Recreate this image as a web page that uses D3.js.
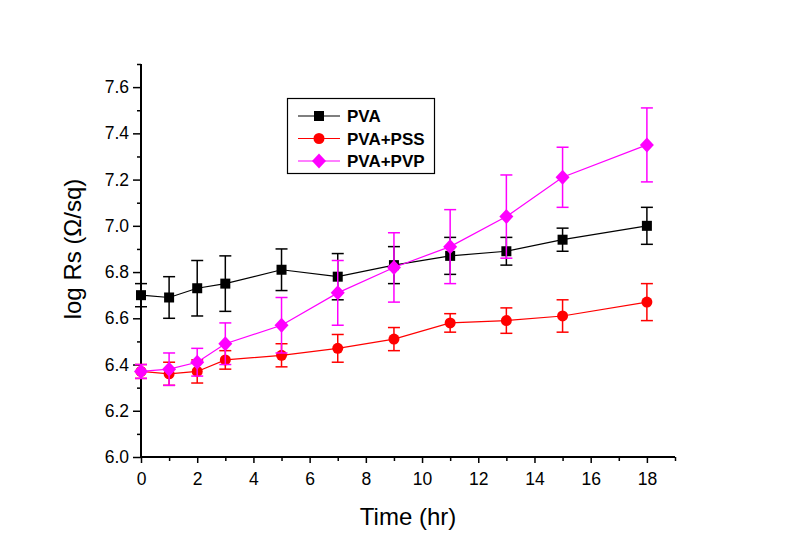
<!DOCTYPE html>
<html><head><meta charset="utf-8">
<script src="https://cdn.jsdelivr.net/npm/d3@7"></script>
<style>body{margin:0;background:#fff}svg{display:block}text{font-family:Arial,"Liberation Sans",sans-serif}</style>
</head><body><svg id="c" width="785" height="550"></svg>
<script>
const times = [0, 1, 2, 3, 5, 7, 9, 11, 13, 15, 18];
const pvaValues   = [6.70, 6.69, 6.73, 6.75, 6.81, 6.78, 6.83, 6.87, 6.89, 6.94, 7.00];
const pvaErrors   = [0.05, 0.09, 0.12, 0.12, 0.09, 0.10, 0.08, 0.08, 0.06, 0.05, 0.08];
const pssValues   = [6.37, 6.36, 6.37, 6.42, 6.44, 6.47, 6.51, 6.58, 6.59, 6.61, 6.67];
const pssErrors   = [0.03, 0.05, 0.05, 0.04, 0.05, 0.06, 0.05, 0.04, 0.055, 0.07, 0.08];
const pvpValues   = [6.37, 6.38, 6.41, 6.49, 6.57, 6.71, 6.82, 6.91, 7.04, 7.21, 7.35];
const pvpErrors   = [0.03, 0.07, 0.06, 0.09, 0.12, 0.14, 0.15, 0.16, 0.18, 0.13, 0.16];
const seriesNames = ["PVA", "PVA+PSS", "PVA+PVP"];
const xTicks = [0, 2, 4, 6, 8, 10, 12, 14, 16, 18];
const yTicks = [6.0, 6.2, 6.4, 6.6, 6.8, 7.0, 7.2, 7.4, 7.6];

const svg = d3.select("#c");
const x = d3.scaleLinear().domain([0, 19]).range([141, 675]);
const y = d3.scaleLinear().domain([6.0, 7.7]).range([457, 64]);

const series = [
  {name: seriesNames[0], vals: pvaValues, errs: pvaErrors, color: "#000000", shape: "square"},
  {name: seriesNames[1], vals: pssValues, errs: pssErrors, color: "#ff0000", shape: "circle"},
  {name: seriesNames[2], vals: pvpValues, errs: pvpErrors, color: "#ff00ff", shape: "diamond"}
];

function marker(g, shape, color) {
  if (shape === "square") g.append("rect").attr("x", -5).attr("y", -5).attr("width", 10).attr("height", 10).attr("fill", color);
  else if (shape === "circle") g.append("circle").attr("r", 5.5).attr("fill", color);
  else g.append("path").attr("d", "M0,-7.5L7,0L0,7.5L-7,0Z").attr("fill", color);
}

// axes
const xAxis = svg.append("g").attr("transform", `translate(0,${y(6.0)})`)
  .call(d3.axisBottom(x).tickValues(xTicks).tickSize(6).tickPadding(10).tickFormat(d3.format("d")));
svg.append("g").attr("transform", `translate(0,${y(6.0)})`)
  .call(d3.axisBottom(x).tickValues(d3.range(1, 20, 2)).tickSize(4).tickFormat(""))
  .select(".domain").remove();
const yAxis = svg.append("g").attr("transform", `translate(${x(0)},0)`)
  .call(d3.axisLeft(y).tickValues(yTicks).tickSize(8).tickPadding(4).tickFormat(d3.format(".1f")));
svg.append("g").attr("transform", `translate(${x(0)},0)`)
  .call(d3.axisLeft(y).tickValues([6.1, 6.3, 6.5, 6.7, 6.9, 7.1, 7.3, 7.5, 7.7]).tickSize(4).tickFormat(""))
  .select(".domain").remove();
svg.selectAll(".domain").attr("stroke", "#000").attr("stroke-width", 2);
svg.selectAll(".tick line").attr("stroke", "#000").attr("stroke-width", 1.5);
svg.selectAll(".tick text").attr("font-size", 17.5).attr("fill", "#000").attr("font-family", "Arial, Liberation Sans, sans-serif");
xAxis.select(".domain").attr("d", `M${x(0)},0H${x(19)}`);
yAxis.select(".domain").attr("d", `M0,${y(6.0)}V${y(7.7)}`);

// titles
svg.append("text").attr("x", 408).attr("y", 525).attr("text-anchor", "middle").attr("font-size", 24).text("Time (hr)");
svg.append("text").attr("transform", `translate(81,249) rotate(-90)`).attr("text-anchor", "middle").attr("font-size", 24).text("log Rs (Ω/sq)");

// series
const line = d3.line().x(d => x(d[0])).y(d => y(d[1]));
series.forEach(s => {
  const pts = times.map((t, i) => [t, s.vals[i], s.errs[i]]);
  const g = svg.append("g");
  g.append("path").attr("d", line(pts)).attr("fill", "none").attr("stroke", s.color).attr("stroke-width", 1.2);
  pts.forEach(p => {
    const cx = x(p[0]), y1 = y(p[1] + p[2]), y2 = y(p[1] - p[2]);
    g.append("line").attr("x1", cx).attr("x2", cx).attr("y1", y1).attr("y2", y2).attr("stroke", s.color).attr("stroke-width", 1.5);
    [y1, y2].forEach(yy => g.append("line").attr("x1", cx - 6).attr("x2", cx + 6).attr("y1", yy).attr("y2", yy).attr("stroke", s.color).attr("stroke-width", 1.5));
  });
  pts.forEach(p => marker(g.append("g").attr("transform", `translate(${x(p[0])},${y(p[1])})`), s.shape, s.color));
});

// legend
const lg = svg.append("g");
lg.append("rect").attr("x", 287.5).attr("y", 98.5).attr("width", 147).attr("height", 75).attr("fill", "#fff").attr("stroke", "#000").attr("stroke-width", 1.2);
series.forEach((s, i) => {
  const yy = 116 + i * 22.5;
  lg.append("line").attr("x1", 298).attr("x2", 340).attr("y1", yy).attr("y2", yy).attr("stroke", s.color).attr("stroke-width", 1.2);
  marker(lg.append("g").attr("transform", `translate(319,${yy})`), s.shape, s.color);
  lg.append("text").attr("x", 347).attr("y", yy).attr("dy", "0.36em").attr("font-size", 17).attr("font-weight", "bold").text(s.name);
});
</script></body></html>
